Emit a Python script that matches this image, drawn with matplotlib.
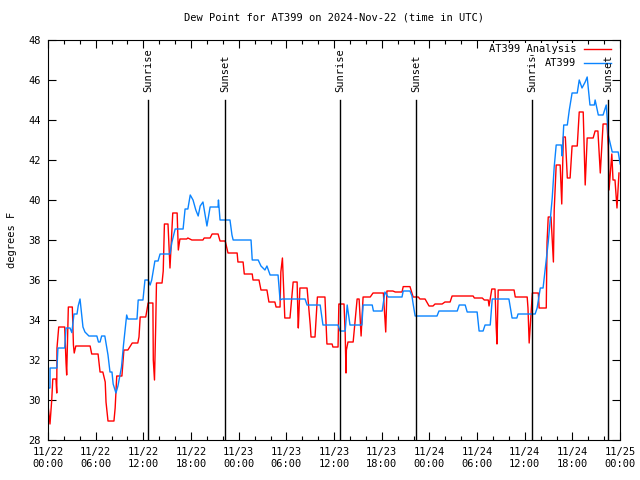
import numpy as np
import pandas as pd
import matplotlib
matplotlib.use("Agg")
import matplotlib.pyplot as plt
import matplotlib.dates as mdates

start = pd.Timestamp("2024-11-22 00:00")

# hours since 11/22 00:00 UTC, dew point in F
analysis_hours = [
    0.0, 0.25, 0.47, 0.6, 1.0, 1.1, 1.13, 1.35, 2.1, 2.27, 2.35, 2.43, 2.56, 3.06,
    3.2, 3.3, 3.5, 5.3, 5.5, 6.3, 6.55, 6.9, 7.2, 7.3, 7.55, 8.3, 8.45, 8.65, 9.3,
    9.55, 10.05, 10.6, 11.3, 11.45, 11.6, 12.3, 12.6, 13.2, 13.25, 13.4, 13.55,
    13.65, 14.35, 14.5, 14.65, 15.1, 15.35, 15.5, 15.7, 16.25, 16.4, 16.6, 17.45,
    17.6, 18.1, 19.5, 19.65, 20.4, 20.65, 21.4, 21.65, 22.3, 22.65, 23.8, 23.9,
    24.55, 24.7, 25.7, 25.8, 26.55, 26.8, 27.55, 27.8, 28.55, 28.7, 29.2, 29.3,
    29.5, 29.8, 30.45, 30.85, 31.35, 31.45, 31.5, 31.7, 32.6, 33.0, 33.1, 33.6,
    33.9, 34.85, 35.1, 35.75, 35.85, 36.5, 36.6, 37.25, 37.4, 37.5, 37.55, 37.75,
    38.4, 38.65, 38.9, 39.15, 39.4, 39.65, 40.55, 40.9, 42.2, 42.5, 42.65, 43.4,
    43.7, 44.55, 44.7, 45.55, 45.95, 46.6, 46.8, 47.45, 47.95, 48.45, 48.7, 49.6,
    49.95, 50.6, 50.85, 53.5, 53.65, 54.65, 54.9, 55.4, 55.5, 55.85, 56.25, 56.4,
    56.5, 56.65, 58.65, 58.8, 60.3, 60.4, 60.55, 60.95, 61.7, 61.8, 62.7, 62.8,
    62.95, 63.3, 63.6, 63.7, 63.95, 64.45, 64.6, 64.65, 64.85, 65.1, 65.35, 65.7,
    65.95, 66.6, 66.85, 67.35, 67.6, 67.85, 68.6, 68.85, 69.2, 69.5, 69.85, 70.35,
    70.5, 70.6, 70.95, 71.1, 71.35, 71.6, 71.85,
]
analysis_dewpt = [
    29.75, 28.8, 30.0, 31.05, 31.05, 30.35, 32.6, 33.65, 33.65, 31.85, 31.25, 32.6,
    34.65, 34.65, 32.75, 32.35, 32.7, 32.7, 32.3, 32.3, 31.4, 31.4, 30.9, 29.9,
    28.95, 28.95, 29.6, 31.2, 31.2, 32.5, 32.5, 32.85, 32.85, 33.15, 34.15, 34.15,
    34.85, 34.85, 32.0, 31.0, 33.65, 35.85, 35.85, 36.45, 38.8, 38.8, 36.6, 37.8,
    39.35, 39.35, 37.5, 38.05, 38.05, 38.1, 38.0, 38.0, 38.1, 38.1, 38.3, 38.3,
    37.95, 37.95, 37.35, 37.35, 36.9, 36.9, 36.3, 36.3, 36.0, 36.0, 35.5, 35.5,
    34.9, 34.9, 34.65, 34.65, 36.4, 37.1, 34.1, 34.1, 35.9, 35.9, 34.15, 33.6,
    35.6, 35.6, 33.75, 33.15, 33.15, 35.15, 35.15, 32.8, 32.8, 32.65, 32.65, 34.8,
    34.8, 33.3, 31.35, 32.5, 32.9, 32.9, 34.0, 35.05, 35.05, 33.2, 35.15, 35.15,
    35.35, 35.35, 33.4, 35.45, 35.45, 35.4, 35.4, 35.67, 35.67, 35.15, 35.15,
    35.05, 35.05, 34.7, 34.7, 34.8, 34.8, 34.9, 34.9, 35.2, 35.2, 35.1, 35.1, 35.0,
    35.0, 34.7, 35.55, 35.55, 33.65, 32.8, 35.5, 35.5, 35.15, 35.15, 34.6, 32.85,
    35.35, 35.35, 34.6, 34.6, 37.9, 39.15, 39.15, 36.9, 39.5, 41.75, 41.75, 40.25,
    39.8, 43.15, 43.15, 41.1, 41.1, 42.7, 42.7, 44.4, 44.4, 40.75, 43.1, 43.1,
    43.45, 43.45, 41.35, 43.8, 43.8, 42.7, 40.5, 42.3, 41.0, 41.0, 39.6, 41.35,
]

station_hours = [
    0.0, 0.25, 0.26, 1.13, 1.25, 2.1, 2.27, 2.77, 3.0, 3.27, 3.65, 3.8, 4.03, 4.3,
    4.4, 4.65, 5.15, 6.15, 6.35, 6.55, 6.75, 7.15, 7.55, 7.8, 8.05, 8.2, 8.55, 8.8,
    9.25, 9.5, 9.9, 10.05, 11.2, 11.35, 11.95, 12.2, 12.6, 12.85, 13.05, 13.45,
    13.85, 14.1, 15.35, 15.6, 16.0, 17.0, 17.25, 17.6, 17.9, 18.25, 18.6, 18.9,
    19.15, 19.5, 19.75, 20.0, 20.4, 21.4, 21.45, 21.65, 22.9, 23.15, 23.3, 25.55,
    25.7, 26.45, 26.8, 27.3, 27.55, 27.95, 28.95, 29.2, 29.45, 32.35, 32.6, 34.25,
    34.6, 36.5, 36.75, 37.4, 37.65, 38.0, 39.5, 39.65, 40.8, 40.95, 42.05, 42.4,
    42.8, 44.55, 44.7, 45.55, 45.8, 45.95, 46.2, 48.95, 49.2, 51.5, 51.75, 52.5,
    52.75, 54.0, 54.25, 54.75, 55.0, 55.65, 55.9, 58.0, 58.4, 59.0, 59.15, 61.3,
    61.55, 61.95, 62.3, 62.55, 62.95, 63.45, 63.7, 63.95, 64.6, 64.7, 64.9, 65.35,
    65.6, 65.95, 66.6, 66.85, 67.2, 67.6, 67.85, 68.2, 68.75, 68.85, 69.25, 69.85,
    70.25, 70.5, 71.0, 71.75, 72.0,
]
station_dewpt = [
    30.6, 30.6, 31.6, 31.6, 32.6, 32.6, 33.6, 33.6, 33.37, 34.3, 34.3, 34.7, 35.05,
    34.0, 33.65, 33.4, 33.2, 33.2, 32.9, 32.9, 33.2, 33.2, 32.25, 31.4, 31.4, 30.8,
    30.35, 30.7, 31.65, 32.75, 34.25, 34.05, 34.05, 35.0, 35.0, 36.0, 36.0, 35.75,
    36.0, 36.95, 36.95, 37.3, 37.3, 37.9, 38.55, 38.55, 39.55, 39.55, 40.25, 40.0,
    39.5, 39.2, 39.7, 39.9, 39.3, 38.7, 39.65, 39.65, 40.0, 39.0, 39.0, 38.25, 38.0,
    38.0, 37.0, 37.0, 36.7, 36.5, 36.7, 36.25, 36.25, 35.0, 35.05, 35.05, 34.75,
    34.75, 33.75, 33.75, 33.45, 33.45, 34.75, 33.75, 33.75, 34.75, 34.75, 34.45,
    34.45, 35.4, 35.15, 35.15, 35.45, 35.45, 35.2, 34.8, 34.2, 34.2, 34.45, 34.45,
    34.75, 34.75, 34.4, 34.4, 33.45, 33.45, 33.75, 33.75, 35.05, 35.05, 34.1, 34.1,
    34.3, 34.3, 34.6, 35.6, 35.6, 36.5, 37.9, 40.1, 41.65, 42.75, 42.75, 42.2,
    43.75, 43.75, 44.5, 45.35, 45.35, 46.0, 45.6, 45.9, 46.15, 44.75, 44.75, 45.0,
    44.25, 44.25, 44.75, 43.25, 42.4, 42.4, 41.8,
]

sun_labels = ["Sunrise", "Sunset", "Sunrise", "Sunset", "Sunrise", "Sunset"]
sun_hours = [12.59, 22.28, 36.76, 46.32, 60.93, 70.49]

plt.rcParams["font.family"] = "DejaVu Sans Mono"
plt.rcParams["font.size"] = 7.5

t_an = start + pd.to_timedelta(analysis_hours, unit="h")
t_st = start + pd.to_timedelta(station_hours, unit="h")
t_sun = start + pd.to_timedelta(sun_hours, unit="h")

fig = plt.figure(figsize=(6.4, 4.8), dpi=100)
ax = fig.add_axes([0.075, 0.0833, 0.894, 0.8334])

ax.plot(t_an, analysis_dewpt, color="#ff0000", lw=1)
ax.plot(t_st, station_dewpt, color="#0a84ff", lw=1)

for t, lab in zip(t_sun, sun_labels):
    ax.plot([t, t], [28, 45], color="black", lw=1)
    ax.text(t, 45.4, lab, rotation=90, ha="center", va="bottom")

ax.set_xlim(start, start + pd.Timedelta(hours=72))
ax.set_ylim(28, 48)
ax.set_yticks(np.arange(28, 49, 2))
ax.xaxis.set_major_locator(mdates.HourLocator(byhour=range(0, 24, 6)))
ax.xaxis.set_minor_locator(mdates.HourLocator(byhour=range(0, 24, 2)))
ax.xaxis.set_major_formatter(mdates.DateFormatter("%m/%d\n%H:%M"))
ax.tick_params(which="both", direction="in", top=True, right=True, width=0.8)
ax.tick_params(which="major", length=6, pad=5)
ax.tick_params(which="minor", length=3)
for s in ax.spines.values():
    s.set_linewidth(0.8)

ax.set_ylabel("degrees F", labelpad=8)
ax.set_title("Dew Point for AT399 on 2024-Nov-22 (time in UTC)", fontsize=7.5, pad=14)

# gnuplot-style key: right-aligned text with sample line on its right,
# drawn over the sunrise label like the original
tr = ax.transAxes
for i, (lab, col) in enumerate([("AT399 Analysis", "#ff0000"), ("AT399", "#0a84ff")]):
    y = 0.977 - i * 0.034
    ax.text(0.923, y, lab, transform=tr, ha="right", va="center", zorder=5,
            bbox=dict(facecolor="white", edgecolor="none", pad=0.5))
    ax.plot([0.937, 0.984], [y, y], transform=tr, color=col, lw=1, clip_on=False)

fig.savefig("out.png", dpi=100)
